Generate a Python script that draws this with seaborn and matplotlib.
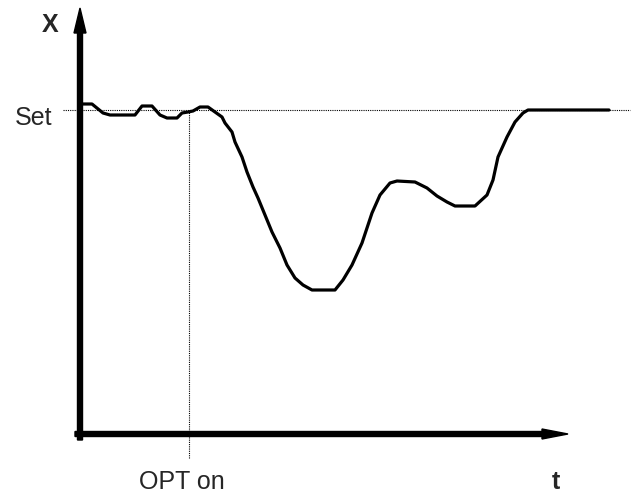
import matplotlib
matplotlib.use("Agg")
import matplotlib.pyplot as plt
import seaborn as sns

# curve: time t and value X (origin at the axes corner)
t_vals = [3, 12, 23, 30, 55, 62, 72, 80, 87, 97, 102, 108, 113, 120, 128,
          135, 142, 145, 152, 155, 162, 167, 173, 178, 185, 192, 200, 207,
          215, 223, 232, 255, 263, 272, 282, 292, 300, 310, 317, 335, 347,
          357, 367, 375, 395, 407, 413, 418, 427, 435, 443, 448, 529]
x_vals = [330, 330, 321, 319, 319, 328, 328, 319, 316, 316, 321, 322, 323,
          327, 327, 322, 317, 311, 302, 292, 277, 262, 247, 236, 219, 202,
          186, 169, 156, 149, 144, 144, 154, 169, 191, 221, 239, 251, 253,
          252, 246, 238, 232, 228, 228, 239, 254, 277, 297, 312, 321, 324, 324]

set_level = 324
opt_on_t = 109

sns.set_style("white")
plt.rcParams["font.family"] = ["Liberation Sans", "DejaVu Sans"]

fig = plt.figure(figsize=(6.36, 4.95), dpi=100)
ax = fig.add_axes([0, 0, 1, 1])
ax.set_xlim(-80, 556)
ax.set_ylim(-61, 434)
ax.axis("off")

# dotted reference lines
ax.plot([-17, 550], [set_level, set_level], color="black", lw=0.8,
        linestyle=(0, (1, 1)))
ax.plot([opt_on_t, opt_on_t], [-24, 322], color="black", lw=0.8,
        linestyle=(0, (1, 1)))

# the response curve
sns.lineplot(x=t_vals, y=x_vals, ax=ax, color="black", lw=2.3,
             estimator=None, sort=False)

# axes with arrow heads
ax.arrow(0, -6, 0, 432, width=5, head_width=12, head_length=25,
         length_includes_head=True, color="black")
ax.arrow(-5, 0, 493, 0, width=5, head_width=10, head_length=26,
         length_includes_head=True, color="black")

ax.text(-30, 402, "X", fontsize=18, fontweight="bold", ha="center", va="baseline")
ax.text(-46, 309, "Set", fontsize=18, ha="center", va="baseline")
ax.text(102, -55, "OPT on", fontsize=18, ha="center", va="baseline")
ax.text(476, -55, "t", fontsize=18, fontweight="bold", ha="center", va="baseline")

fig.savefig("out.png", dpi=100)
